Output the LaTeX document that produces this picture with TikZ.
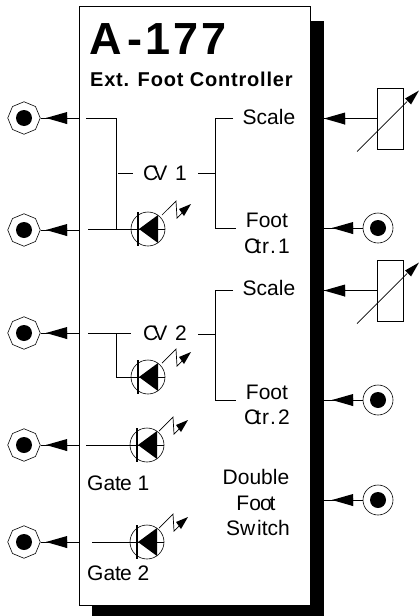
\documentclass[tikz,border=0pt]{standalone}
\usepackage{fontspec}
\setmainfont{Liberation Sans}
\usetikzlibrary{shapes.geometric}
\newfontfamily\wideb[LetterSpace=4]{Liberation Sans Bold}
\newcommand{\lbl}[1]{\fontsize{#1}{#1}\selectfont}
\tikzset{
  wire/.style={line width=0.8pt,black},
  txt/.style={inner sep=0pt,font=\lbl{21}},
  jackoct/.style={regular polygon,regular polygon sides=8,shape border rotate=22.5,draw,line width=0.6pt,minimum size=32.5pt,inner sep=0pt},
  jackrnd/.style={circle,draw,line width=0.6pt,minimum size=30pt,inner sep=0pt},
  ledring/.style={circle,draw,line width=0.6pt,minimum size=34pt,inner sep=0pt},
  potbox/.style={draw,line width=0.6pt,minimum width=26pt,minimum height=61pt,inner sep=0pt},
  pics/plughead/.style={code={\fill (0,0) -- (21,-6) -- (21,6) -- (10,1.5) -- cycle; \fill (0,0)--(21,-2)--(21,6)--cycle;}},
  pics/ledsym/.style={code={
    \draw[line width=1.4pt] (-10,-17) -- (-10,17);
    \fill (-9,0) -- (10,-14) -- (10,14) -- cycle;
  }},
}
\newcommand{\zap}[3]{%
  \draw[line width=0.7pt] (#1+#3+14,#2-14) -- (#1+#3+28,#2-28) -- (#1+#3+29,#2-11) -- (#1+#3+34,#2-16);
  \fill (#1+#3+43,#2-25) -- (#1+#3+31,#2-20) -- (#1+#3+36,#2-13) -- cycle;
}
\newcommand{\blackdot}[2]{\fill (#1,#2) circle (8);}
\begin{document}
\begin{tikzpicture}[x=1pt,y=-1pt]
\useasboundingbox (0,0) rectangle (419,616);
\fill (92,21) rectangle (324,616);
\node[draw,fill=white,line width=0.8pt,anchor=north west,minimum width=231.5pt,minimum height=599.5pt,inner sep=0pt] (panel) at (78.5,5.5) {};
\node[inner sep=0pt,anchor=base west,font=\lbl{45}\bfseries] (title) at (89,54) {A\kern6pt-\kern3pt 1\kern3pt 7\kern3pt 7};
\node[inner sep=0pt,anchor=base west,font=\lbl{20}\wideb] (sub) at (90,86) {Ext. Foot Controller};
\foreach \n/\y in {a/118,b/230,c/333,d/445,e/542}{
  \node[jackoct] (j\n) at (24,\y) {};
  \blackdot{24}{\y}
  \coordinate (p\n) at (78.5,\y);
  \draw[wire] (j\n.east) -- (p\n);
  \pic at (46,\y) {plughead};
}
\foreach \n/\y in {f/228,g/400,h/500}{
  \node[jackrnd] (j\n) at (378,\y) {};
  \blackdot{378}{\y}
  \coordinate (p\n) at (324,\y);
  \draw[wire] (j\n.west) -- (p\n);
  \pic at (332,\y) {plughead};
}
\foreach \n/\yc in {k/118.5,m/290.5}{
  \node[potbox] (pot\n) at (390,\yc) {};
  \coordinate (q\n) at (324,\yc);
  \draw[wire] (pot\n.west) -- (q\n);
  \pic at (324,\yc) {plughead};
  \coordinate (s\n) at (357,\yc+33);
  \coordinate (t\n) at (407,\yc-17);
  \draw[line width=0.7pt] (s\n) -- (t\n);
  \fill (419,\yc-28) -- (405,\yc-20) -- (411,\yc-14) -- cycle;
}
\foreach \n/\x/\y in {l/148/229,n/148/377,o/147/445,r/147/542}{
  \node[ledring] (led\n) at (\x,\y) {};
  \pic at (\x,\y) {ledsym};
}
\zap{148}{229}{0}
\zap{148}{377}{0}
\zap{147}{445}{-2}
\zap{147}{542}{-2}
\coordinate (w1) at (86,118);
\coordinate (w2) at (116,118);
\coordinate (w3) at (116,229);
\coordinate (w4) at (88,229);
\draw[wire] (w1) -- (w2) -- (w3);
\draw[wire] (w4) -- (ledl.east);
\coordinate (w5) at (88,333);
\coordinate (w6) at (131,333);
\coordinate (w7) at (116,333);
\coordinate (w8) at (116,377);
\draw[wire] (w5) -- (w6);
\draw[wire] (w7) -- (w8) -- (ledn.east);
\coordinate (w9) at (86,445);
\draw[wire] (w9) -- (ledo.east);
\coordinate (w10) at (92,542);
\draw[wire] (w10) -- (ledr.east);
\node[txt] (cv1) at (165,173) {C\kern-5pt V\kern2pt\ 1};
\node[txt] (cv2) at (165,333) {C\kern-5pt V\kern2pt\ 2};
\coordinate (x1) at (118,173);
\coordinate (x2) at (133,173);
\draw[wire] (x1) -- (x2);
\coordinate (b1) at (233,118);
\coordinate (b2) at (215.5,118);
\coordinate (b3) at (215.5,228);
\coordinate (b4) at (236,228);
\coordinate (b5) at (198,173);
\coordinate (b6) at (215.5,173);
\draw[wire] (b1) -- (b2) -- (b3) -- (b4);
\draw[wire] (b5) -- (b6);
\coordinate (c1) at (233,290);
\coordinate (c2) at (215.5,290);
\coordinate (c3) at (215.5,400);
\coordinate (c4) at (236,400);
\coordinate (c5) at (198,334);
\coordinate (c6) at (215.5,334);
\draw[wire] (c1) -- (c2) -- (c3) -- (c4);
\draw[wire] (c5) -- (c6);
\node[txt] (sc1) at (269,117) {Scale};
\node[txt] (ft1) at (267,220) {Foot};
\node[txt] (ct1) at (267,246) {C\kern-4pt t\kern1pt r\kern1pt.\kern2pt 1};
\node[txt] (sc2) at (269,288) {Scale};
\node[txt] (ft2) at (267,392) {Foot};
\node[txt] (ct2) at (267,417) {C\kern-4pt t\kern1pt r\kern1pt.\kern2pt 2};
\node[txt] (db) at (256,477) {Double};
\node[txt] (fo) at (256,503) {Fo\kern-1pt o\kern-2pt t};
\node[txt] (sw) at (258,528) {Sw\kern2pt itch};
\node[txt,anchor=west] (g1) at (87,483) {Gat\kern-1pt e 1};
\node[txt,anchor=west] (g2) at (87,573) {Gat\kern-1pt e 2};
\end{tikzpicture}
\end{document}
